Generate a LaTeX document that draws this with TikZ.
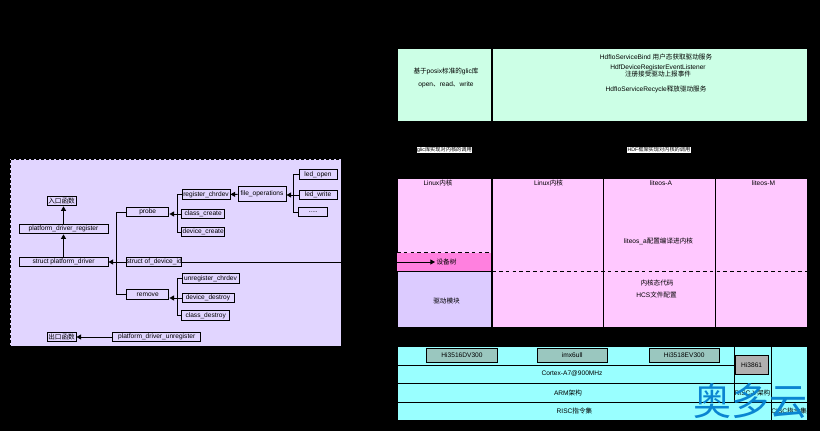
\documentclass[tikz,border=0pt]{standalone}
\usepackage{fontspec}
\setmainfont{Liberation Sans}
\newfontfamily\zh{Noto Sans CJK SC}
\usetikzlibrary{arrows.meta}
\definecolor{panelfill}{HTML}{E1D5FF}
\definecolor{greenfill}{HTML}{CCFFE6}
\definecolor{pinkfill}{HTML}{FFC8FF}
\definecolor{treefill}{HTML}{FF80DF}
\definecolor{modfill}{HTML}{DCCBFF}
\definecolor{cyanfill}{HTML}{99FFFF}
\definecolor{chipfill}{HTML}{9AC7BF}
\definecolor{hifill}{HTML}{B0B0B0}
\definecolor{markblue}{HTML}{0A85D1}
\tikzstyle{box} = [draw=black, line width=0.8pt, inner sep=0pt, align=center, font=\fontsize{6.6}{7.6}\selectfont]
\tikzstyle{func} = [box, fill=panelfill, minimum height=9.6pt, line width=1pt]
\tikzstyle{layer} = [box, anchor=north west, line width=0.5pt]
\tikzstyle{line} = [draw=black, line width=0.9pt]
\tikzstyle{tip} = [line, -{Triangle[length=4.6pt,width=5pt]}]
\tikzstyle{txt} = [inner sep=0pt, align=center, font=\fontsize{6.6}{7.6}\selectfont]
\tikzstyle{dashline} = [draw=black, line width=0.9pt, dash pattern=on 3.6pt off 3.2pt]
\begin{document}
\begin{tikzpicture}[x=1pt, y=-1pt]
	\useasboundingbox [fill=black] (0,0) rectangle (820,431);

	% left panel
	\node [draw=black, line width=0.8pt, dash pattern=on 3pt off 2pt, fill=panelfill, anchor=north west, minimum width=331pt, minimum height=187pt, inner sep=0pt] (panel) at (10,159) {};

	\node [func, minimum width=29pt] (entry) at (61.5,201) {\zh 入口函数};
	\node [func, minimum width=89pt] (register) at (63.5,229) {platform\_driver\_register};
	\node [func, minimum width=89pt] (pdriver) at (63.5,262) {struct platform\_driver};
	\node [func, minimum width=42.5pt] (probe) at (147.7,212) {probe};
	\node [func, minimum width=55.5pt] (ofid) at (154.2,262) {struct of\_device\_id};
	\node [func, minimum width=42.5pt] (remove) at (147.7,294.7) {remove};
	\node [func, minimum width=29pt] (exit) at (61.5,337) {\zh 出口函数};
	\node [func, minimum width=88.5pt] (unregister) at (156.7,337) {platform\_driver\_unregister};

	\node [func, minimum width=48pt] (chrdev) at (206,194.5) {register\_chrdev};
	\node [func, minimum width=42.5pt] (classc) at (203.2,214) {class\_create};
	\node [func, minimum width=42.5pt] (devicec) at (203.2,232) {device\_create};
	\node [func, minimum width=48pt, minimum height=14.5pt] (fops) at (262,194.2) {file\_operations};
	\node [func, minimum width=38pt] (ledopen) at (318,174.5) {led\_open};
	\node [func, minimum width=38pt] (ledwrite) at (318,195) {led\_write};
	\node [func, minimum width=28.5pt] (dots) at (313.2,212) {.....};

	\node [func, minimum width=57pt] (unchrdev) at (210.5,278.5) {unregister\_chrdev};
	\node [func, minimum width=52pt] (deviced) at (208,298) {device\_destroy};
	\node [func, minimum width=47.5pt] (classd) at (205.7,315.7) {class\_destroy};

	\path [tip] (register) -- (register |- entry.south);
	\path [tip] (pdriver) -- (register);
	\path [tip] (ofid) -- (pdriver);
	\path [line] (probe.west) -- ++(-9.2,0) |- (remove.west);
	\path [tip] (unregister) -- (exit);

	\path [tip] (classc.west) -- (classc.west -| probe.east);
	\path [line] (chrdev.west) -- ++(-4,0) |- (devicec.west);
	\path [tip] (fops) -- (chrdev);
	\path [tip] (ledwrite.west) -- (ledwrite.west -| fops.east);
	\path [line] (ledopen.west) -- ++(-5,0) |- (dots.west);
	\path [tip] (deviced.west) -- (deviced.west -| remove.east);
	\path [line] (unchrdev.west) -- ++(-4,0) |- (classd.west);

	% top row
	\node [layer, fill=greenfill, minimum width=94pt, minimum height=73.5pt] (posix) at (397,47.7) {};
	\node [layer, fill=greenfill, minimum width=315.5pt, minimum height=73.5pt] (hdf) at (491.5,47.7) {};
	\node [txt] (posixa) at (446,71) {\zh 基于\normalfont posix\zh 标准的\normalfont glic\zh 库};
	\node [txt] (posixb) at (446,85) {open\zh 、\normalfont read\zh 、\normalfont write};
	\node [txt] (hdfa) at (656,57) {HdfIoServiceBind {\zh 用户态获取驱动服务}};
	\node [txt] (hdfb) at (658,71) {HdfDeviceRegisterEventListener\\[-0.3pt]{\zh 注册接受驱动上报事件}};
	\node [txt] (hdfc) at (656,89.5) {HdfIoServiceRecycle{\zh 释放驱动服务}};

	\node [fill=white, inner sep=0.4pt, font=\fontsize{5.2}{6}\selectfont] (glic) at (444.5,150) {glic{\zh 库实现对内核的调用}};
	\node [fill=white, inner sep=0.4pt, font=\fontsize{5.2}{6}\selectfont] (hdflabel) at (659,150) {HDF{\zh 框架实现对内核的调用}};

	% kernel row
	\node [layer, fill=pinkfill, minimum width=94pt, minimum height=148.4pt] (linuxa) at (397,178.4) {};
	\node [layer, fill=pinkfill, minimum width=111.5pt, minimum height=148.4pt] (linuxb) at (491.5,178.4) {};
	\node [layer, fill=pinkfill, minimum width=112pt, minimum height=148.4pt] (litea) at (603,178.4) {};
	\node [layer, fill=pinkfill, minimum width=92pt, minimum height=148.4pt] (litem) at (715,178.4) {};
	\node [layer, draw=none, fill=treefill, minimum width=94pt, minimum height=18.5pt] (dtree) at (397,252.5) {};
	\node [layer, fill=modfill, minimum width=94pt, minimum height=55.8pt] (drvmod) at (397,271) {};
	\path [dashline] (dtree.north west) -- (dtree.north east);
	\path [dashline] (drvmod.north west) -- (litem.east |- drvmod.north);

	\node [txt] (linuxatxt) at (438,183) {Linux{\zh 内核}};
	\node [txt] (linuxbtxt) at (548.5,183) {Linux{\zh 内核}};
	\node [txt] (liteatxt) at (661,183) {liteos-A};
	\node [txt] (litemtxt) at (763.5,183) {liteos-M};
	\node [txt] (dtreetxt) at (446.5,262) {\zh 设备树};
	\node [txt] (drvtxt) at (446.5,300.5) {\zh 驱动模块};
	\node [txt] (liteb) at (658.5,241) {liteos\_a{\zh 配置编译进内核}};
	\node [txt] (litec) at (657,283) {\zh 内核态代码};
	\node [txt] (lited) at (656.5,295) {HCS{\zh 文件配置}};

	\coordinate (dtreein) at (435,262);
	\path [tip] (ofid.east) -- (dtreein);

	% bottom row
	\node [layer, fill=cyanfill, minimum width=336.5pt, minimum height=18.5pt] (socs) at (397,346) {};
	\node [layer, fill=cyanfill, minimum width=336.5pt, minimum height=18.5pt] (cortex) at (397,364.5) {};
	\node [layer, fill=cyanfill, minimum width=336.5pt, minimum height=18.5pt] (arm) at (397,383) {};
	\node [layer, fill=cyanfill, minimum width=374pt, minimum height=18.5pt] (risc) at (397,401.5) {};
	\node [layer, fill=cyanfill, minimum width=37.5pt, minimum height=37pt] (m3) at (733.5,346) {};
	\node [layer, fill=cyanfill, minimum width=37.5pt, minimum height=18.5pt] (riscv) at (733.5,383) {RISC-V{\zh 架构}};
	\node [layer, fill=cyanfill, minimum width=36pt, minimum height=55.5pt] (cm) at (771,346) {};
	\node [layer, fill=cyanfill, minimum width=36pt, minimum height=18.5pt] (cisc) at (771,401.5) {CISC{\zh 指令集}};
	\node [txt] (cortextxt) at (572,374) {Cortex-A7@900MHz};
	\node [txt] (armtxt) at (568,392.5) {ARM{\zh 架构}};
	\node [txt] (risctxt) at (574.5,411) {RISC{\zh 指令集}};

	\node [box, fill=chipfill, minimum width=70.5pt, minimum height=14pt] (hia) at (462,355) {Hi3516DV300};
	\node [box, fill=chipfill, minimum width=70.5pt, minimum height=14pt] (imx) at (572.2,355) {imx6ull};
	\node [box, fill=chipfill, minimum width=70.5pt, minimum height=14pt] (hib) at (684.2,355) {Hi3518EV300};
	\node [box, fill=hifill, minimum width=33.5pt, minimum height=18.5pt] (hic) at (751.7,364.7) {Hi3861};

	\node [inner sep=0pt, text=markblue, font=\zh\fontsize{38}{38}\selectfont] (mark) at (750.5,401.5) {奥多云};
\end{tikzpicture}
\end{document}
